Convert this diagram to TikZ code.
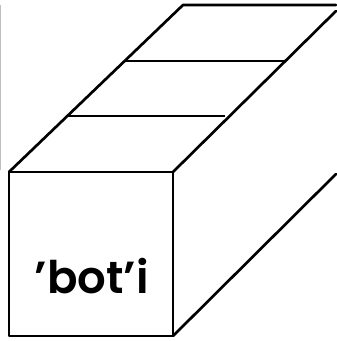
\documentclass[tikz,border=0pt]{standalone}
\usepackage{fontspec}
\setmainfont{Poppins}
\newfontfamily\labelfont{Poppins SemiBold}
\tikzset{
  edge/.style={line width=1.9pt, line cap=round, line join=round, black},
  rung/.style={line width=1.8pt, black},
  margin/.style={line width=1.4pt, black!25},
  boxlabel/.style={font=\fontsize{32}{32}\labelfont, inner sep=0pt, anchor=base}
}
\begin{document}
\begin{tikzpicture}[x=1cm,y=1cm]
\useasboundingbox (0,0) rectangle (8.4,8.525);

% --- Corners of the box ---
\coordinate (ftl) at (0.225,4.225);
\coordinate (ftr) at (4.325,4.225);
\coordinate (fbl) at (0.225,0.125);
\coordinate (fbr) at (4.325,0.125);
\coordinate (btl) at (4.575,8.4);
\coordinate (btr) at (8.4,8.25);
\coordinate (bbr) at (8.4,4.175);
\coordinate (btc) at (8.4,8.4);

% --- Rung ends ---
\coordinate (ra) at (3.125,7.0);
\coordinate (rb) at (7.1,7.0);
\coordinate (rc) at (1.675,5.625);
\coordinate (rd) at (5.625,5.625);

% --- Margin line ---
\coordinate (ma) at (0.0,8.4);
\coordinate (mb) at (0.0,4.275);
\draw[margin] (ma) -- (mb);

% --- Box ---
\draw[edge] (ftl) rectangle (fbr);
\draw[edge] (ftl) -- (btl) -- (btc);
\draw[edge] (ftr) -- (btr);
\draw[edge] (fbr) -- (bbr);
\draw[rung] (ra) -- (rb);
\draw[rung] (rc) -- (rd);

% --- Label ---
\node[boxlabel] (name) at (2.29,1.175) {’bot’i};

\end{tikzpicture}
\end{document}
